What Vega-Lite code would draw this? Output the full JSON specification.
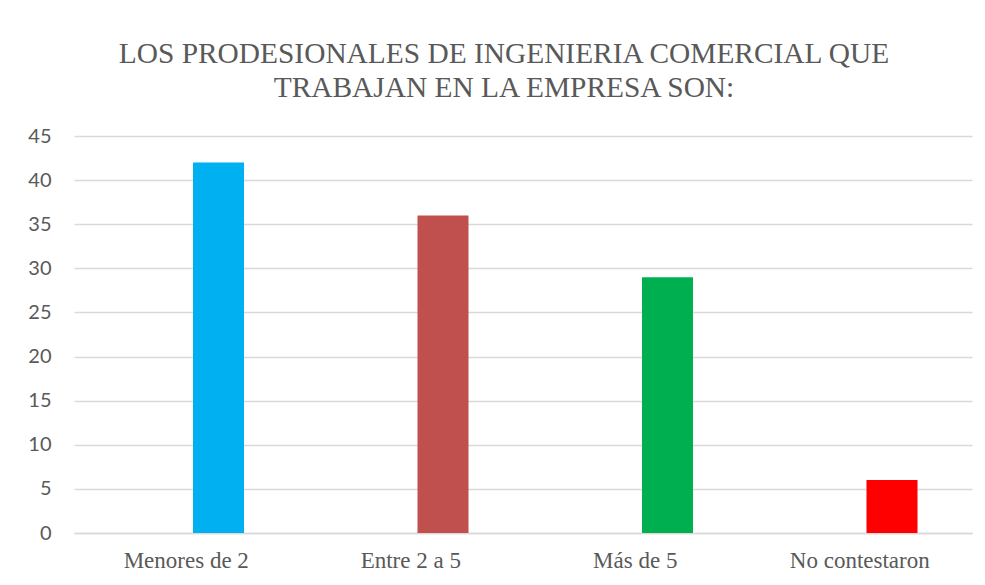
{
  "$schema": "https://vega.github.io/schema/vega-lite/v6.json",
  "width": 898,
  "height": 397,
  "autosize": {"type": "none"},
  "padding": {"left": 74, "top": 136, "right": 13, "bottom": 52},
  "background": "white",
  "title": {
    "text": ["LOS PRODESIONALES DE INGENIERIA COMERCIAL QUE", "TRABAJAN EN LA EMPRESA SON:"],
    "font": "Liberation Serif",
    "fontSize": 29.4,
    "fontWeight": "normal",
    "color": "#595959",
    "anchor": "middle",
    "dx": -19,
    "offset": 23,
    "lineHeight": 34
  },
  "data": {
    "values": [
      {"categoria": "Menores de 2", "serie": "Serie2", "valor": 42},
      {"categoria": "Entre 2 a 5", "serie": "Serie2", "valor": 36},
      {"categoria": "Más de 5", "serie": "Serie2", "valor": 29},
      {"categoria": "No contestaron", "serie": "Serie2", "valor": 6}
    ]
  },
  "mark": {"type": "bar"},
  "encoding": {
    "x": {
      "field": "categoria",
      "type": "nominal",
      "sort": null,
      "scale": {"paddingInner": 0, "paddingOuter": 0},
      "axis": {
        "title": null,
        "labelAngle": 0,
        "labelFont": "Liberation Serif",
        "labelFontSize": 23,
        "labelColor": "#595959",
        "labelPadding": 16,
        "ticks": false,
        "domain": true,
        "domainColor": "#d9d9d9",
        "domainWidth": 1.5,
        "grid": false
      }
    },
    "xOffset": {
      "field": "serie",
      "type": "nominal",
      "scale": {"domain": ["Serie1", "Serie2"], "paddingInner": 0.209, "paddingOuter": 0.845}
    },
    "y": {
      "field": "valor",
      "type": "quantitative",
      "scale": {"domain": [0, 45], "nice": false},
      "axis": {
        "title": null,
        "values": [0, 5, 10, 15, 20, 25, 30, 35, 40, 45],
        "labelFont": "Lato",
        "labelFontSize": 20,
        "labelColor": "#595959",
        "labelPadding": 23,
        "ticks": false,
        "domain": false,
        "grid": true,
        "gridColor": "#d9d9d9",
        "gridWidth": 1.5
      }
    },
    "color": {
      "field": "categoria",
      "type": "nominal",
      "scale": {
        "domain": ["Menores de 2", "Entre 2 a 5", "Más de 5", "No contestaron"],
        "range": ["#00B0F0", "#C0504D", "#00B050", "#FF0000"]
      },
      "legend": null
    }
  },
  "config": {"view": {"stroke": null}}
}
